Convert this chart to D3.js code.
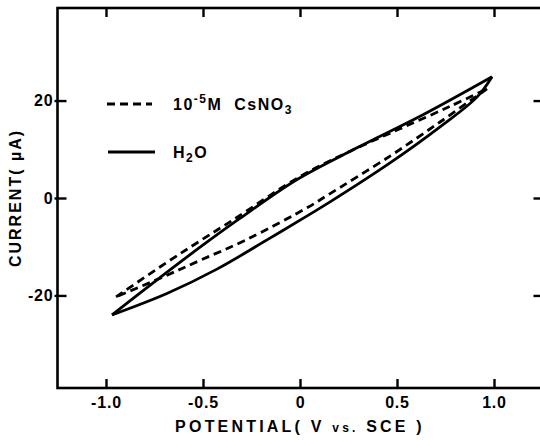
<!DOCTYPE html>
<html>
<head>
<meta charset="utf-8">
<script src="https://cdn.jsdelivr.net/npm/d3@7"></script>
<style>
  body { margin: 0; background: #fff; }
  svg { display: block; }
  text { font-family: "Liberation Sans", Arial, sans-serif; font-weight: bold; fill: #000; }
</style>
</head>
<body>
<div id="chart"></div>
<script>
// Cyclic voltammograms: [potential (V vs SCE), current (uA)]
// forward = sweep from -1 V up to +1 V, reverse = back down
const h2oForward = [
  [-0.969, -24.0], [-0.747, -17.1], [-0.515, -10.1], [-0.310, -4.2],
  [-0.015, 3.8], [0.294, 10.3], [0.634, 17.1], [0.990, 24.9],
];
const h2oReverse = [
  [0.990, 24.9], [0.912, 20.7], [0.722, 14.6], [0.464, 7.2], [0.155, -0.8],
  [0.052, -3.3], [-0.170, -8.6], [-0.428, -14.6], [-0.686, -19.6], [-0.969, -24.0],
];
const csForward = [
  [-0.948, -20.3], [-0.686, -13.2], [-0.515, -8.8], [-0.345, -4.5],
  [0.0, 4.4], [0.258, 9.6], [0.515, 14.2], [0.773, 18.8], [0.964, 22.4],
];
const csReverse = [
  [0.964, 22.4], [0.928, 21.4], [0.722, 15.6], [0.464, 8.6], [0.139, 0.5],
  [0.041, -1.9], [-0.273, -8.5], [-0.515, -12.8], [-0.706, -16.2], [-0.948, -20.3],
];

const xTicks = [-1, -0.5, 0, 0.5, 1];
const xTickLabels = ["-1.0", "-0.5", "0", "0.5", "1.0"];
const yTicks = [-20, 0, 20];
const yTickLabels = ["-20", "0", "20"];

const width = 540;
const height = 440;
const frame = { left: 57.5, right: 542.5, top: 8, bottom: 388 };

const svg = d3.select("#chart").append("svg")
  .attr("width", width)
  .attr("height", height);

const x = d3.scaleLinear().domain([-1.25, 1.25]).range([frame.left, frame.right]);
const y = d3.scaleLinear().domain([-39, 39]).range([frame.bottom, frame.top]);

// Axes, ticks pointing inward
const styleAxis = (g) => {
  g.select(".domain").remove();
  g.selectAll(".tick line").attr("stroke", "#000").attr("stroke-width", 2.4);
  g.selectAll(".tick text")
    .attr("font-size", 16)
    .attr("letter-spacing", 0.8)
    .attr("fill", "#000");
};

svg.append("g")
  .attr("transform", `translate(0,${frame.bottom})`)
  .call(d3.axisBottom(x).tickValues(xTicks)
    .tickFormat((d, i) => xTickLabels[i]).tickSize(-9).tickPadding(9))
  .call(styleAxis);

svg.append("g")
  .attr("transform", `translate(0,${frame.top})`)
  .call(d3.axisTop(x).tickValues(xTicks).tickFormat("").tickSize(-9))
  .call(styleAxis);

svg.append("g")
  .attr("transform", `translate(${frame.left},0)`)
  .call(d3.axisLeft(y).tickValues(yTicks)
    .tickFormat((d, i) => yTickLabels[i]).tickSize(-9).tickPadding(4))
  .call(styleAxis)
  .call((g) => g.selectAll(".tick line").attr("x1", -3));

svg.append("g")
  .attr("transform", `translate(${frame.right},0)`)
  .call(d3.axisRight(y).tickValues(yTicks).tickFormat("").tickSize(-9))
  .call(styleAxis);

// Frame
svg.append("rect")
  .attr("x", frame.left)
  .attr("y", frame.top)
  .attr("width", frame.right - frame.left)
  .attr("height", frame.bottom - frame.top)
  .attr("fill", "none")
  .attr("stroke", "#000")
  .attr("stroke-width", 2.6);

// Curves
const line = d3.line()
  .x((d) => x(d[0]))
  .y((d) => y(d[1]))
  .curve(d3.curveCatmullRom.alpha(0.5));

const series = [
  { data: h2oForward, dash: null },
  { data: h2oReverse, dash: null },
  { data: csForward, dash: "8,5" },
  { data: csReverse, dash: "8,5" },
];

svg.append("g")
  .selectAll("path")
  .data(series)
  .join("path")
  .attr("d", (d) => line(d.data))
  .attr("fill", "none")
  .attr("stroke", "#000")
  .attr("stroke-width", 2.8)
  .attr("stroke-linejoin", "round")
  .attr("stroke-dasharray", (d) => d.dash);

// Legend
const legend = svg.append("g");
legend.append("line")
  .attr("x1", 107).attr("x2", 152).attr("y1", 104).attr("y2", 104)
  .attr("stroke", "#000").attr("stroke-width", 2.8).attr("stroke-dasharray", "8,5");
legend.append("line")
  .attr("x1", 108).attr("x2", 155).attr("y1", 152).attr("y2", 152)
  .attr("stroke", "#000").attr("stroke-width", 2.8);

const cs = legend.append("text")
  .attr("x", 173).attr("y", 110)
  .attr("font-size", 16)
  .attr("letter-spacing", 1.5);
cs.append("tspan").text("10");
cs.append("tspan").attr("font-size", 12).attr("dy", -7).text("-5");
cs.append("tspan").attr("dy", 7).text("M");
cs.append("tspan").attr("dx", 12).text("CsNO");
cs.append("tspan").attr("font-size", 12).attr("dy", 4).text("3");

const h2o = legend.append("text")
  .attr("x", 173).attr("y", 158)
  .attr("font-size", 16)
  .attr("letter-spacing", 1.5);
h2o.append("tspan").text("H");
h2o.append("tspan").attr("font-size", 12).attr("dy", 4).text("2");
h2o.append("tspan").attr("dy", -4).text("O");

// Axis titles
const xTitle = svg.append("text")
  .attr("x", 300).attr("y", 432)
  .attr("text-anchor", "middle")
  .attr("font-size", 16)
  .attr("letter-spacing", 3.2);
xTitle.append("tspan").text("POTENTIAL( V ");
xTitle.append("tspan").attr("font-size", 12).text("vs.");
xTitle.append("tspan").text(" SCE )");

svg.append("text")
  .attr("transform", `translate(15,${y(0)}) rotate(-90)`)
  .attr("text-anchor", "middle")
  .attr("dominant-baseline", "central")
  .attr("font-size", 16)
  .attr("letter-spacing", 2)
  .text("CURRENT( \u00b5A)");
</script>
</body>
</html>
